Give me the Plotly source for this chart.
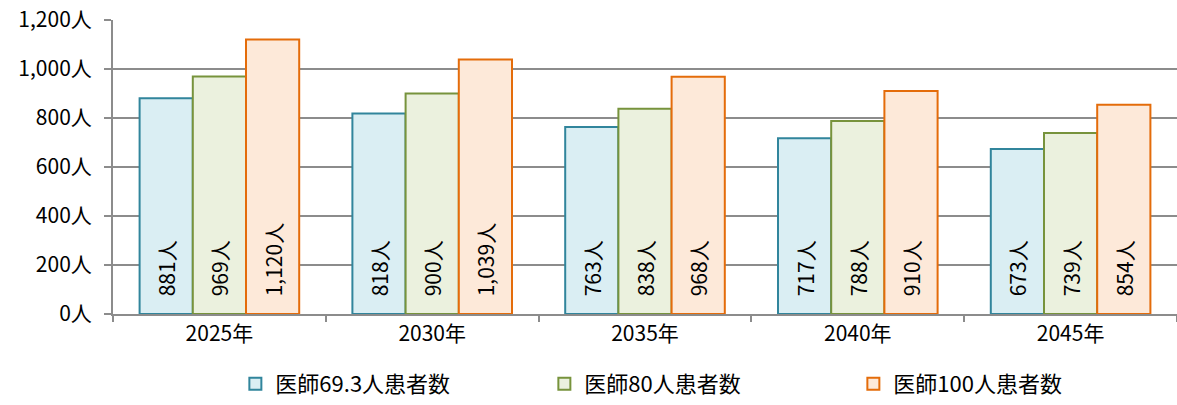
import plotly.graph_objects as go

years = ["2025年", "2030年", "2035年", "2040年", "2045年"]
names = ["医師69.3人患者数", "医師80人患者数", "医師100人患者数"]
v_693 = [881, 818, 763, 717, 673]
v_80 = [969, 900, 838, 788, 739]
v_100 = [1120, 1039, 968, 910, 854]
y_ticks = [0, 200, 400, 600, 800, 1000, 1200]
y_labels = ["0人", "200人", "400人", "600人", "800人", "1,000人", "1,200人"]

line_colors = ["#31859C", "#77933C", "#E46C0A"]
fill_colors = ["#DAEEF3", "#EBF1DE", "#FDE9D9"]

FONT = "Noto Sans CJK JP"

fig = go.Figure()
for name, vals, lc, fc in zip(names, [v_693, v_80, v_100], line_colors, fill_colors):
    fig.add_trace(
        go.Bar(
            x=years,
            y=vals,
            name=name,
            marker=dict(color=fc, line=dict(color=lc, width=2)),
            text=["\u2002\u2009" + f"{v:,}人" for v in vals],
            textposition="inside",
            insidetextanchor="start",
            textangle=-90,
            textfont=dict(family=FONT, size=21, color="#000000"),
            constraintext="none",
        )
    )

fig.update_layout(
    width=1177,
    height=405,
    margin=dict(l=113, r=0, t=20, b=90),
    paper_bgcolor="white",
    plot_bgcolor="white",
    barmode="group",
    bargap=0.25,
    bargroupgap=0,
    font=dict(family=FONT, size=21, color="#000000"),
    uniformtext=dict(minsize=21, mode="show"),
    legend=dict(
        orientation="h",
        x=0.115,
        xanchor="left",
        y=-0.24,
        yanchor="middle",
        entrywidth=264,
        font=dict(family=FONT, size=22),
        itemclick=False,
    ),
)

fig.update_yaxes(
    automargin=False,
    range=[0, 1200],
    tickvals=y_ticks,
    ticktext=y_labels,
    showgrid=True,
    gridcolor="#8C8C8C",
    gridwidth=2,
    showline=True,
    linecolor="#8C8C8C",
    linewidth=2,
    ticks="outside",
    ticklen=7,
    tickwidth=2,
    tickcolor="#8C8C8C",
    ticklabelstandoff=8,
    zeroline=False,
)
fig.update_xaxes(
    automargin=False,
    showline=True,
    linecolor="#8C8C8C",
    linewidth=2,
    ticks="outside",
    tickson="boundaries",
    ticklen=6,
    tickwidth=2,
    tickcolor="#8C8C8C",
)

# drop the default body margin so the figure fills the window exactly
fig.write_html(
    "out.html",
    config={"displayModeBar": False},
    post_script="document.body.style.margin = '0';",
)
